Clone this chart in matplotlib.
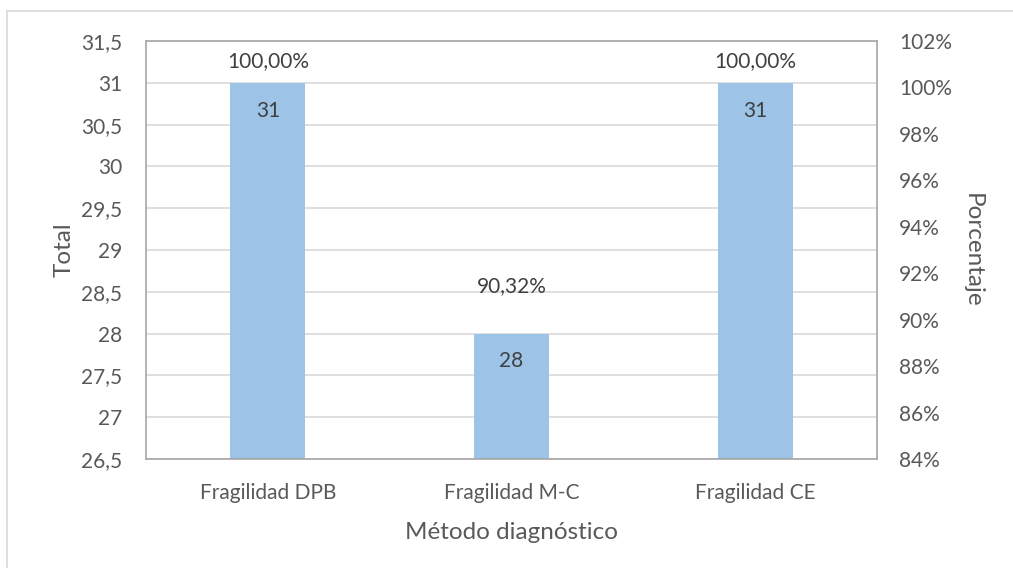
import matplotlib
matplotlib.use("Agg")
import matplotlib.pyplot as plt
from matplotlib.lines import Line2D

plt.rcParams['font.family'] = ['Lato', 'DejaVu Sans']

categorias = ['Fragilidad DPB', 'Fragilidad M-C', 'Fragilidad CE']
totales = [31, 28, 31]
porcentajes = [100.00, 90.32, 100.00]

ticks_total = [26.5, 27, 27.5, 28, 28.5, 29, 29.5, 30, 30.5, 31, 31.5]
ticks_pct = [84, 86, 88, 90, 92, 94, 96, 98, 100, 102]

texto = '#595959'
barra = '#9dc3e6'

fig = plt.figure(figsize=(10.13, 5.68), dpi=100)
ax = fig.add_axes([0.1441, 0.1919, 0.7216, 0.7359])
x = list(range(len(categorias)))

ax.bar(x, [t - ticks_total[0] for t in totales], bottom=ticks_total[0],
       width=0.308, color=barra, zorder=2)
ax.set_xlim(-0.5, 2.5)
ax.set_ylim(ticks_total[0], ticks_total[-1])
ax.set_yticks(ticks_total)
ax.set_yticklabels([f'{t:g}'.replace('.', ',') for t in ticks_total])
ax.set_xticks(x)
ax.set_xticklabels(categorias)
ax.grid(axis='y', color='#d9d9d9', linewidth=1.2, zorder=0)
ax.tick_params(length=0, labelsize=15, colors=texto, pad=17)
ax.tick_params(axis='x', pad=17)
for s in ax.spines.values():
    s.set_color('#a6a6a6')
    s.set_linewidth(1.2)
ax.set_ylabel('Total', fontsize=17.5, color=texto, labelpad=5)
ax.set_xlabel('Método diagnóstico', fontsize=17.5, color=texto, labelpad=14)

for xi, t in zip(x, totales):
    ax.annotate(f'{t}', (xi, t), xytext=(0, -20), textcoords='offset points',
                ha='center', va='center', fontsize=15, color='#404040')

ax2 = ax.twinx()
ax2.set_ylim(ticks_pct[0], ticks_pct[-1])
ax2.set_yticks(ticks_pct)
ax2.set_yticklabels([f'{p}%' for p in ticks_pct])
ax2.tick_params(length=0, labelsize=15, colors=texto, pad=16)
for s in ax2.spines.values():
    s.set_visible(False)
ax2.set_ylabel('Porcentaje', fontsize=17.5, color=texto, rotation=-90, labelpad=22)

for xi, p in zip(x, porcentajes):
    ax2.annotate(f'{p:.2f}%'.replace('.', ','), (xi, p), xytext=(0, 19),
                 textcoords='offset points', ha='center', va='center',
                 fontsize=15, color='#404040')

# marco exterior del gráfico
fig.add_artist(Line2D([7 / 1013, 1], [1 - 11 / 568, 1 - 11 / 568],
                      transform=fig.transFigure, color='#d9d9d9', linewidth=1.2))
fig.add_artist(Line2D([7 / 1013, 7 / 1013], [0, 1 - 11 / 568],
                      transform=fig.transFigure, color='#d9d9d9', linewidth=1.2))

fig.savefig('out.png', dpi=100)
